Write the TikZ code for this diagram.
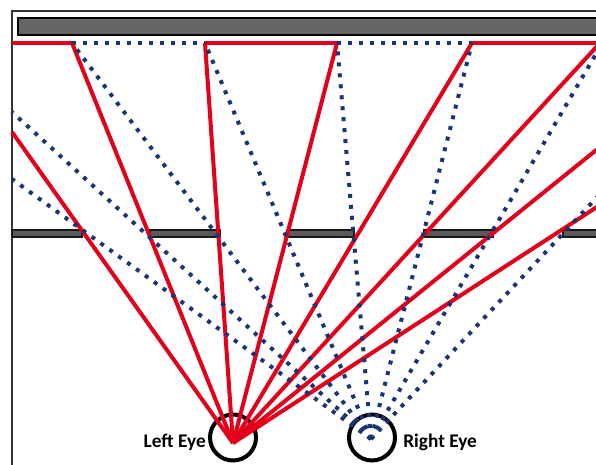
\documentclass[tikz,border=0pt]{standalone}
\usepackage{fontspec}
\setsansfont{Carlito}
\usetikzlibrary{positioning}

\definecolor{rayred}{HTML}{E2001A}
\definecolor{rayblue}{HTML}{1B3570}
\definecolor{wallgray}{HTML}{666666}
\definecolor{fencegray}{HTML}{5A5A5A}

\tikzset{
    redray/.style={rayred, line width=3pt},
    blueray/.style={rayblue, line width=3pt, dash pattern=on 3pt off 5.25pt},
    fencebar/.style={draw=black!90, fill=fencegray, line width=1.5pt},
    eyering/.style={draw=black, line width=3pt, circle, inner sep=0pt, minimum size=34.5pt},
    eyelabel/.style={inner sep=0pt, font=\sffamily\bfseries\fontsize{14.5}{17}\selectfont}
}

\begin{document}
\begin{tikzpicture}[x=0.75pt, y=-0.75pt]
    \useasboundingbox (0,0) rectangle (596,464);
    \clip (0,0) rectangle (596,464);

    % Frame and back wall
    \draw[line width=1.5pt, black!80] (12,470) -- (12,11) -- (605,11);
    \draw[line width=1.5pt, fill=wallgray] (18,18) rectangle (605,35);

    % Fence with openings
    \foreach \a/\b in {12/82, 150/220, 287/354, 424/493, 563/605}
        \draw[fencebar] (\a,229.5) rectangle (\b,236.5);

    % Eyes
    \node[eyering] (lefteye) at (233,437.5) {};
    \node[eyering] (righteye) at (372,437.5) {};
    \node[eyelabel, anchor=base east] (leftlabel) at (206,447) {Left Eye};
    \node[eyelabel, anchor=base west] (rightlabel) at (403,447) {Right Eye};

    % Where the rays start and end
    \coordinate (lfocus) at (233,443);
    \coordinate (rfocus) at (371,439);
    \coordinate (tl) at (12,43);
    \coordinate (t1) at (72,43);
    \coordinate (t2) at (205,43);
    \coordinate (t3) at (337,43);
    \coordinate (t4) at (472,43);
    \coordinate (tr) at (605,43);
    \coordinate (l1) at (12,132);
    \coordinate (l2) at (12,112);
    \coordinate (l3) at (12,179);
    \coordinate (r1) at (600,43);
    \coordinate (r2) at (600,147);
    \coordinate (r3) at (600,205);
    \coordinate (r4) at (600,47);
    \coordinate (r5) at (600,194);

    % Back wall seen by each eye
    \draw[redray] (tl) -- (t1) (t2) -- (t3) (t4) -- (tr);
    \draw[blueray] (t1) -- (t2) (t3) -- (t4);

    % Left eye rays
    \foreach \p in {l1, t1, t2, t3, t4, r1, r2, r3}
        \draw[redray] (lfocus) -- (\p);

    % Right eye rays
    \foreach \p in {l2, l3, t1, t2, t3, t4, r4, r5}
        \draw[blueray] (rfocus) -- (\p);
\end{tikzpicture}
\end{document}
